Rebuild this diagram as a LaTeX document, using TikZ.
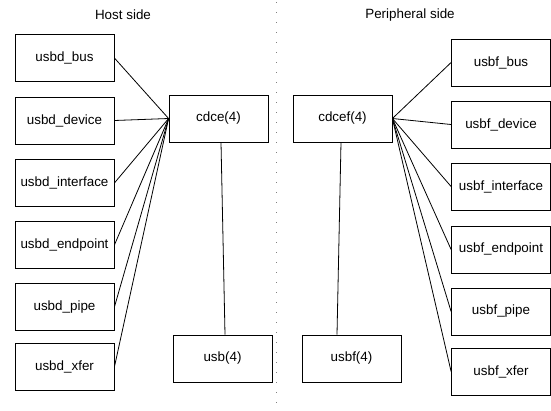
\documentclass[tikz,border=0pt]{standalone}
\usepackage{fontspec}
\setmainfont{Liberation Sans}
\begin{document}
\begin{tikzpicture}[x=1pt,y=-1pt,
  mod/.style={draw,line width=0.8pt,minimum width=99pt,minimum height=47pt,inner sep=0pt,font=\fontsize{13.4}{16}\selectfont},
  title/.style={font=\fontsize{13.4}{16}\selectfont},
  link/.style={line width=0.8pt}]
\useasboundingbox (0,0) rectangle (551,410);
% divider between the two sides
\draw[line width=0.9pt,gray,dash pattern=on 0.9pt off 9.1pt] (276,2) -- (276,410);
\node[title] (host) at (123,15) {Host side};
\node[title] (periph) at (410,15) {Peripheral side};
% host side
\node[mod] (dbus) at (64.5,58) {usbd\_bus};
\node[mod] (ddev) at (64.5,120.5) {usbd\_device};
\node[mod] (difc) at (64.5,183) {usbd\_interface};
\node[mod] (dep) at (64.5,245) {usbd\_endpoint};
\node[mod] (dpipe) at (64.5,307) {usbd\_pipe};
\node[mod] (dxfer) at (64.5,367) {usbd\_xfer};
\node[mod] (cdce) at (218.5,118.5) {cdce(4)};
\node[mod] (usb) at (222.5,358.5) {usb(4)};
% peripheral side
\node[mod] (fbus) at (501,62.5) {usbf\_bus};
\node[mod] (fdev) at (501,124.5) {usbf\_device};
\node[mod] (fifc) at (501,186.5) {usbf\_interface};
\node[mod] (fep) at (501,249.5) {usbf\_endpoint};
\node[mod] (fpipe) at (501,311.5) {usbf\_pipe};
\node[mod] (fxfer) at (501,371.5) {usbf\_xfer};
\node[mod] (cdcef) at (342.5,118.5) {cdcef(4)};
\node[mod] (usbf) at (351.5,358.5) {usbf(4)};
% connections
\foreach \n in {dbus,ddev,difc,dep,dpipe,dxfer}
  \draw[link] (\n.east) -- (cdce.west);
\foreach \n in {fbus,fdev,fifc,fep,fpipe,fxfer}
  \draw[link] (cdcef.east) -- (\n.west);
\draw[link] (cdce.south -| 221,0) -- (usb.north -| 225,0);
\draw[link] (cdcef.south -| 341,0) -- (usbf.north -| 337,0);
\end{tikzpicture}
\end{document}
